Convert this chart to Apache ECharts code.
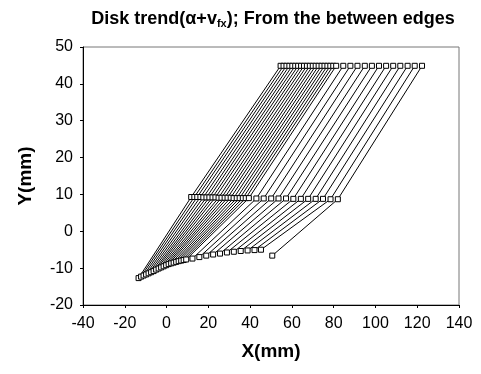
<!DOCTYPE html>
<html><head><meta charset="utf-8">
<script src="https://cdn.jsdelivr.net/npm/echarts@6/dist/echarts.min.js"></script>
<style>html,body{margin:0;padding:0;background:#fff}#c{width:481px;height:374px}</style>
</head><body><div id="c"></div>
<script>
// bottom row (curve)
const bottomX = [-13.4,-12.2,-11.0,-9.8,-8.6,-7.4,-6.2,-5.0,-3.8,-2.6,-1.4,-0.2,1.0,2.2,3.4,4.6,5.8,7.0,8.2,9.4,
                 12.4,15.7,19.0,22.3,25.6,28.9,32.2,35.5,38.8,42.1,45.2,50.6];
const bottomY = [-12.7,-12.3,-12.0,-11.7,-11.4,-11.1,-10.8,-10.4,-10.1,-9.8,-9.5,-9.2,-8.9,-8.7,-8.5,-8.3,-8.1,-7.95,-7.8,-7.65,
                 -7.4,-7.0,-6.6,-6.3,-6.05,-5.75,-5.55,-5.35,-5.2,-5.1,-5.0,-6.6];
// middle row
const middleX = [11.8,13.3,14.7,16.2,17.6,19.1,20.5,22.0,23.4,24.9,26.3,27.8,29.2,30.7,32.1,33.6,35.0,36.5,37.9,39.4,
                 43.0,46.5,50.1,53.6,57.2,60.7,64.3,67.8,71.4,74.9,78.5,82.0];
const middleY = [9.3,9.3,9.3,9.3,9.2,9.2,9.2,9.2,9.2,9.1,9.1,9.1,9.1,9.1,9.0,9.0,9.0,9.0,9.0,9.0,
                 8.9,8.9,8.9,8.9,8.9,8.8,8.8,8.8,8.8,8.8,8.7,8.7];
// top row
const topX = [54.6,56.0,57.4,58.8,60.2,61.6,63.0,64.4,65.8,67.2,68.6,70.0,71.4,72.8,74.2,75.6,77.0,78.4,79.8,81.2,
              84.6,88.0,91.4,94.9,98.3,101.7,105.1,108.5,111.9,115.4,118.8,122.3];
const topY = [44.9,44.9,44.9,44.9,44.9,44.9,44.9,44.9,44.9,44.9,44.9,44.9,44.9,44.9,44.9,44.9,44.9,44.9,44.9,44.9,
              44.9,44.9,44.9,44.9,44.9,44.9,44.9,44.9,44.9,44.9,44.9,44.9];

const xTicks = {min:-40, max:140, interval:20};
const yTicks = {min:-20, max:50, interval:10};

const FONT = '"Liberation Sans", Arial, sans-serif';
const series = bottomX.map((bx, i) => ({
  type: 'line',
  data: [[bx, bottomY[i]], [middleX[i], middleY[i]], [topX[i], topY[i]]],
  symbol: 'rect',
  symbolSize: 5,
  showSymbol: true,
  lineStyle: {color: '#000', width: 1},
  itemStyle: {color: '#fff', borderColor: '#000', borderWidth: 1},
  animation: false,
  z: 2
}));

const chart = echarts.init(document.getElementById('c'), null, {renderer: 'canvas'});
chart.setOption({
  backgroundColor: '#fff',
  animation: false,
  title: {
    text: 'Disk trend(α+v{sub|fx}); From the between edges',
    left: 268, top: 5, textAlign: 'center',
    textStyle: {
      fontFamily: FONT, fontSize: 18, fontWeight: 'bold', color: '#000',
      rich: {sub: {fontFamily: FONT, fontSize: 11, fontWeight: 'bold', color: '#000', verticalAlign: 'bottom', padding: [8,0,0,0]}}
    }
  },
  grid: {left: 83, right: 22, top: 47, bottom: 69, show: true, borderColor: '#777', borderWidth: 1, backgroundColor: 'transparent'},
  xAxis: {
    type: 'value', min: xTicks.min, max: xTicks.max, interval: xTicks.interval,
    name: 'X(mm)', nameLocation: 'middle', nameGap: 37,
    nameTextStyle: {fontFamily: FONT, fontSize: 19, fontWeight: 'bold', color: '#000'},
    axisLine: {show: true, onZero: false, lineStyle: {color: '#000', width: 1}},
    axisTick: {show: true, inside: false, length: 3, lineStyle: {color: '#000'}},
    axisLabel: {fontFamily: FONT, fontSize: 16, color: '#000', margin: 11},
    splitLine: {show: false}
  },
  yAxis: {
    type: 'value', min: yTicks.min, max: yTicks.max, interval: yTicks.interval,
    name: 'Y(mm)', nameLocation: 'middle', nameGap: 48,
    nameTextStyle: {fontFamily: FONT, fontSize: 19, fontWeight: 'bold', color: '#000'},
    axisLine: {show: true, onZero: false, lineStyle: {color: '#000', width: 1}},
    axisTick: {show: true, inside: false, length: 3, lineStyle: {color: '#000'}},
    axisLabel: {fontFamily: FONT, fontSize: 16, color: '#000', margin: 10},
    splitLine: {show: false}
  },
  series: series
});
</script></body></html>
